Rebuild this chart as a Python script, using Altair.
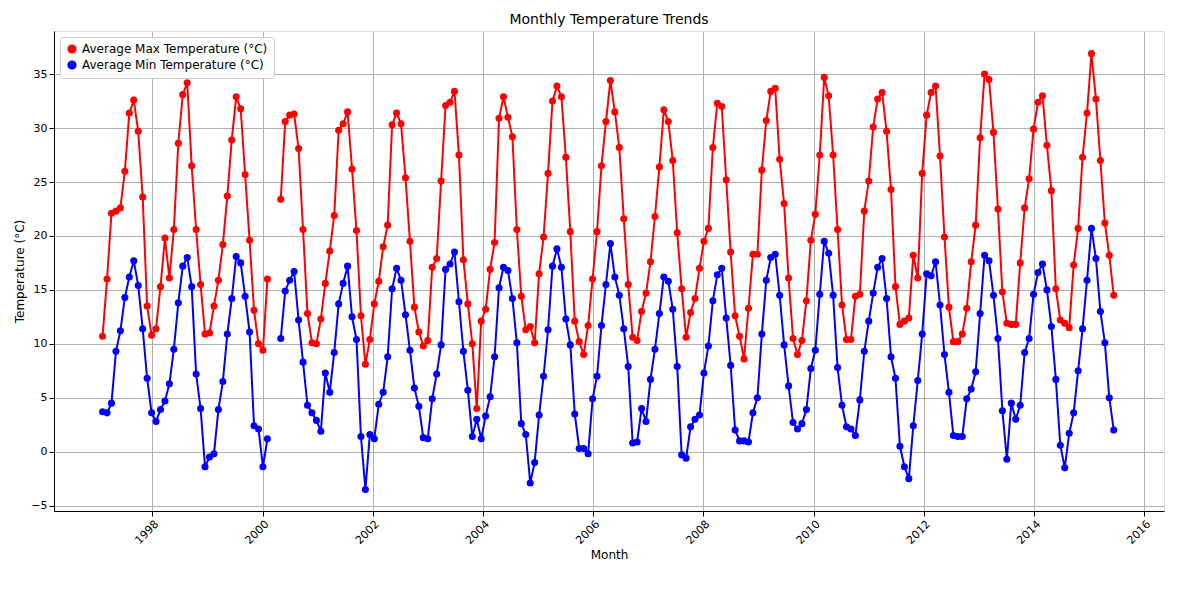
import altair as alt
import pandas as pd
import numpy as np

max_t = [10.7,16.0,22.1,22.3,22.6,26.0,31.4,32.6,29.7,23.6,13.5,10.8,11.4,15.3,19.8,16.1,20.6,28.6,33.1,34.2,
26.5,20.6,15.5,10.9,11.0,13.5,15.9,19.2,23.7,28.9,32.9,31.8,25.7,19.6,13.1,10.0,9.4,16.0,
23.4,30.6,31.2,31.3,28.1,20.6,12.8,10.1,10.0,12.3,15.6,18.6,21.9,29.8,30.4,31.5,26.2,20.5,12.6,8.1,10.4,13.7,
15.8,19.0,21.0,30.3,31.4,30.4,25.4,19.5,13.4,11.1,9.8,10.3,17.1,17.9,25.1,32.1,32.4,33.4,27.5,17.8,
13.7,10.0,4.0,12.1,13.2,16.9,19.4,30.9,32.9,31.0,29.2,20.6,14.4,11.3,11.6,10.1,16.5,19.9,25.8,32.5,
33.9,32.9,27.3,20.4,12.1,10.2,9.0,11.7,16.0,20.4,26.5,30.6,34.4,31.5,28.2,21.6,15.5,10.6,10.3,13.0,
14.7,17.6,21.8,26.4,31.7,30.6,27.0,20.3,15.1,10.6,12.9,14.2,17.0,19.5,20.7,28.2,32.3,32.0,25.2,18.5,
12.6,10.7,8.6,13.3,18.3,18.3,26.1,30.7,33.4,33.7,27.1,23.0,16.1,10.5,9.0,10.3,14.0,19.6,22.0,27.5,
34.7,33.0,27.5,20.6,13.6,10.4,10.4,14.4,14.6,22.3,25.1,30.1,32.7,33.3,29.7,24.3,15.3,11.8,12.1,12.4,
18.2,16.1,25.8,31.2,33.3,33.9,27.4,19.9,13.4,10.2,10.2,10.9,13.3,17.6,21.0,29.1,35.0,34.5,29.6,22.5,
14.8,11.9,11.8,11.8,17.5,22.6,25.3,29.9,32.4,33.0,28.4,24.2,15.1,12.2,11.9,11.5,17.3,20.7,27.3,31.4,
36.9,32.7,27.0,21.2,18.2,14.5]

min_t = [3.7,3.6,4.5,9.3,11.2,14.3,16.2,17.7,15.4,11.4,6.8,3.6,2.8,3.9,4.7,6.3,9.5,13.8,17.2,18.0,
15.3,7.2,4.0,-1.4,-0.5,-0.2,3.9,6.5,10.9,14.2,18.1,17.5,14.4,11.1,2.4,2.1,-1.4,1.2,
10.5,14.9,15.9,16.7,12.2,8.3,4.3,3.6,2.9,1.9,7.3,5.5,9.2,13.7,15.6,17.2,12.5,10.4,1.4,-3.5,1.6,1.2,
4.4,5.5,8.8,15.1,17.0,15.9,12.7,9.4,5.9,4.2,1.3,1.2,4.9,7.2,9.9,16.9,17.4,18.5,13.9,9.3,
5.7,1.4,3.0,1.2,3.3,5.1,8.8,15.2,17.1,16.8,14.2,10.1,2.6,1.6,-2.9,-1.0,3.4,7.0,11.3,17.2,
18.8,17.1,12.3,9.9,3.5,0.3,0.3,-0.2,4.9,7.0,11.7,15.5,19.3,16.2,14.5,11.4,7.9,0.8,0.9,4.0,
2.8,6.7,9.5,12.8,16.2,15.8,13.2,7.9,-0.3,-0.6,2.3,3.0,3.4,7.3,9.8,14.0,16.4,17.0,12.4,8.0,
2.0,1.0,1.0,0.9,3.6,5.0,10.9,15.9,18.0,18.3,14.5,9.9,6.1,2.7,2.1,2.6,3.9,7.7,9.4,14.6,
19.5,18.4,14.5,7.8,4.3,2.3,2.1,1.5,4.8,9.3,12.1,14.7,17.1,17.9,14.2,8.8,6.8,0.5,-1.4,-2.5,
2.4,6.6,10.9,16.5,16.3,17.6,13.6,9.0,5.5,1.5,1.4,1.4,4.9,5.8,7.4,12.8,18.2,17.7,14.5,10.5,
3.8,-0.7,4.5,3.0,4.3,9.2,10.5,14.6,16.6,17.4,15.0,11.6,6.7,0.6,-1.5,1.7,3.6,7.5,11.4,15.9,
20.7,17.9,13.0,10.1,5.0,2.0]

n = min(len(max_t), len(min_t))
gap_at = 38  # two missing readings after the 38th point
mx = max_t[:gap_at] + [np.nan, np.nan] + max_t[gap_at:n]
mn = min_t[:gap_at] + [np.nan, np.nan] + min_t[gap_at:n]
dates = pd.date_range("1997-02-05", "2015-06-12", periods=len(mx))

series = ["Average Max Temperature (°C)", "Average Min Temperature (°C)"]
df = pd.DataFrame({"Month": dates, series[0]: mx, series[1]: mn})
long = df.melt(id_vars="Month", var_name="Series", value_name="Temp")

base = alt.Chart(long)
enc = dict(
    x=alt.X("Month:T", title="Month",
            scale=alt.Scale(domain=["1996-03-20", "2016-05-10"]),
            axis=alt.Axis(format="%Y", tickCount={"interval": "year", "step": 2},
                          labelAngle=-45, grid=True, gridColor="#b0b0b0",
                          labelColor="black", tickColor="black", domainColor="black",
                          labelFontSize=11, titleFontSize=12, titleFontWeight="normal")),
    y=alt.Y("Temp:Q", title="Temperature (°C)",
            scale=alt.Scale(domain=[-5.5, 39], nice=False, zero=False),
            axis=alt.Axis(values=[-5, 0, 5, 10, 15, 20, 25, 30, 35], grid=True, gridColor="#b0b0b0",
                          labelColor="black", tickColor="black", domainColor="black",
                          labelFontSize=11, titleFontSize=12, titleFontWeight="normal")),
    color=alt.Color("Series:N", scale=alt.Scale(domain=series, range=["#ff0000", "#0000ff"]),
                    legend=alt.Legend(title=None, orient="top-left", fillColor="white",
                                      strokeColor="#cccccc", padding=6, labelFontSize=12,
                                      labelLimit=0, offset=6,
                                      symbolType="circle", symbolSize=60, cornerRadius=3)),
)
lines = base.mark_line(strokeWidth=2).encode(**enc)
pts = base.transform_filter("isValid(datum.Temp)").mark_circle(size=50, opacity=1).encode(**enc)

chart = (lines + pts).properties(
    width=1110, height=480,
    title=alt.TitleParams("Monthly Temperature Trends", fontSize=14, fontWeight="normal"),
).configure_view(stroke="black").configure(font="DejaVu Sans")

chart.save("out.html", embed_options={"renderer": "svg", "actions": False})
